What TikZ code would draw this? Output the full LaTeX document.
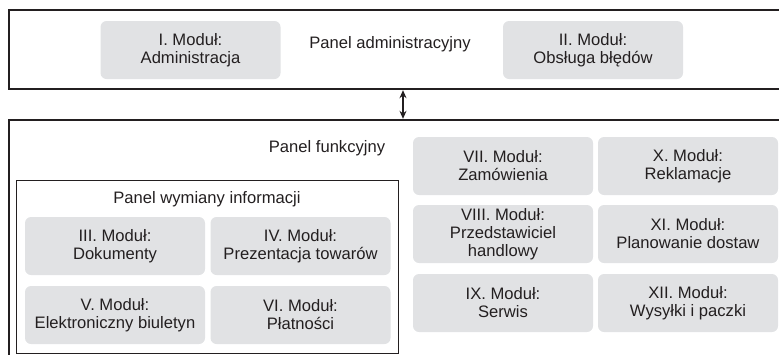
\documentclass[tikz,border=0pt]{standalone}
\usepackage{fontspec}
\setmainfont{Liberation Sans}
\usetikzlibrary{arrows.meta}
\definecolor{modgray}{HTML}{E1E2E4}
\definecolor{ink}{HTML}{231F20}
\begin{document}
\begin{tikzpicture}[x=1pt,y=-1pt,
  panel/.style={draw=ink, line width=1.2pt, inner sep=0pt},
  mod/.style={fill=modgray, rounded corners=6pt, minimum width=180pt, minimum height=58pt,
    inner sep=0pt, align=center, text=ink, font=\fontsize{16.6}{18}\selectfont,
    execute at begin node=\rule{0pt}{20pt}},
  lbl/.style={anchor=base, text=ink, font=\fontsize{16.6}{18}\selectfont, inner sep=0pt},
  link/.style={draw=ink, line width=1.2pt, {Stealth[length=8pt,width=7pt]}-{Stealth[length=8pt,width=7pt]}}]
\path[use as bounding box] (0,0) rectangle (779,354);
\clip (0,0) rectangle (779,354);
% panels
\node[panel, minimum width=791pt, minimum height=79pt] (adm) at (404.5,49.5) {};
\node[panel, minimum width=791pt, minimum height=250pt] (fun) at (404.5,245) {};
\node[panel, line width=1pt, minimum width=382pt, minimum height=173pt] (info) at (207,266.5) {};
% panel titles
\node[lbl] (admt) at (390,48) {Panel administracyjny};
\node[lbl] (funt) at (327,152) {Panel funkcyjny};
\node[lbl] (infot) at (207,203) {Panel wymiany informacji};
% modules
\node[mod] (m1) at (190.5,50) {I. Moduł:\\Administracja};
\node[mod] (m2) at (593,50) {II. Moduł:\\Obsługa błędów};
\node[mod] (m3) at (115,246) {III. Moduł:\\Dokumenty};
\node[mod] (m4) at (300.5,246) {IV. Moduł:\\Prezentacja towarów};
\node[mod] (m5) at (115,315) {V. Moduł:\\Elektroniczny biuletyn};
\node[mod] (m6) at (300.5,315) {VI. Moduł:\\Płatności};
\node[mod] (m7) at (503,166) {VII. Moduł:\\Zamówienia};
\node[mod] (m8) at (503,234) {VIII. Moduł:\\Przedstawiciel\\handlowy};
\node[mod] (m9) at (503,303) {IX. Moduł:\\Serwis};
\node[mod] (m10) at (688,166) {X. Moduł:\\Reklamacje};
\node[mod] (m11) at (688,234) {XI. Moduł:\\Planowanie dostaw};
\node[mod] (m12) at (688,303) {XII. Moduł:\\Wysyłki i paczki};
% link
\coordinate (ax) at (403,0);
\draw[link] ([yshift=-0.6pt]adm.south -| ax) -- ([yshift=0.6pt]fun.north -| ax);
\end{tikzpicture}
\end{document}
